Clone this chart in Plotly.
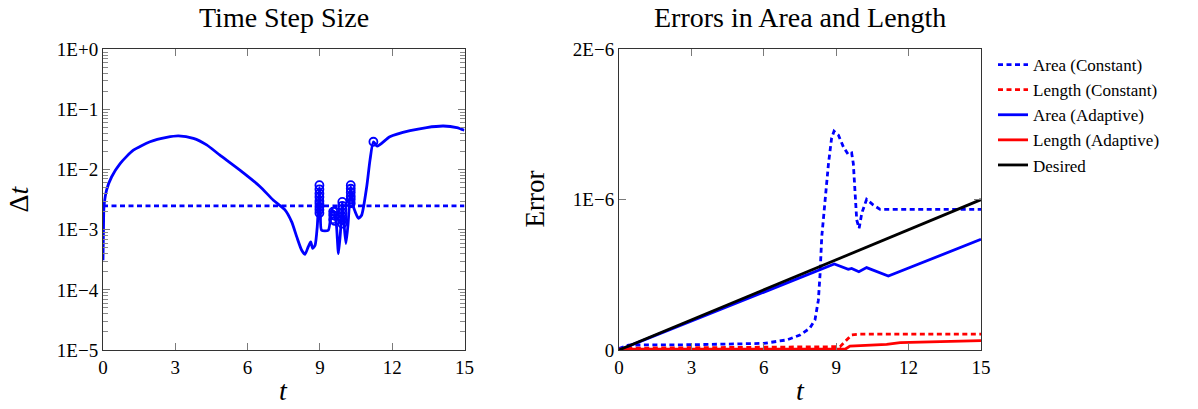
import plotly.graph_objects as go

# ---------------- data: left panel (time step size) ----------------
t_adapt = [0, 0.02, 0.04, 0.15, 0.36, 0.71, 1.26, 1.95, 2.64, 3.13, 3.75, 4.30, 4.85,
           5.68, 6.51, 7.07, 7.55, 7.83, 8.04, 8.24, 8.38, 8.52, 8.62, 8.70, 8.80, 8.89,
           8.98, 9.02, 9.07, 9.35, 9.49, 9.58, 9.68, 9.77, 9.86, 9.93, 10.0, 10.08, 10.17,
           10.28, 10.38, 10.6, 10.73, 10.94, 11.08, 11.22, 11.38, 11.9, 12.74, 13.43,
           14.12, 14.68, 15]
dt_adapt = [3.1e-4, 1.0e-3, 2.4e-3, 4.6e-3, 7.6e-3, 1.26e-2, 2.1e-2, 2.9e-2, 3.43e-2,
            3.63e-2, 3.3e-2, 2.57e-2, 1.74e-2, 9.8e-3, 5.25e-3, 3.1e-3, 2.14e-3, 1.35e-3,
            7.6e-4, 4.6e-4, 3.9e-4, 5.25e-4, 6.3e-4, 4.9e-4, 5.5e-4, 1.12e-3, 5.0e-3,
            2.2e-3, 9.8e-4, 9.8e-4, 2.14e-3, 2.0e-3, 1.26e-3, 4.0e-4, 1.0e-3, 2.8e-3,
            1.26e-3, 5.9e-4, 1.26e-3, 5.2e-3, 2.5e-3, 1.55e-3, 1.74e-3, 5.1e-3, 1.45e-2,
            2.9e-2, 2.45e-2, 3.5e-2, 4.43e-2, 5.0e-2, 5.3e-2, 5.0e-2, 4.5e-2]

t_const = [0, 15]
dt_const = [2.5e-3, 2.5e-3]

t_reject = [8.98, 8.98, 8.98, 8.98, 8.98, 8.98, 8.98, 8.98, 8.98,
            9.55, 9.55, 9.55, 9.62, 9.62, 9.62,
            9.93, 9.93, 9.93, 9.93, 9.93, 9.93, 9.93,
            10.28, 10.28, 10.28, 10.28, 10.28, 10.28,
            11.22]
dt_reject = [5.5e-3, 4.7e-3, 4.0e-3, 3.5e-3, 3.0e-3, 2.7e-3, 2.4e-3, 2.15e-3, 1.9e-3,
             2.0e-3, 1.75e-3, 1.5e-3, 2.0e-3, 1.7e-3, 1.4e-3,
             2.9e-3, 2.5e-3, 2.2e-3, 1.9e-3, 1.65e-3, 1.45e-3, 1.26e-3,
             5.5e-3, 4.8e-3, 4.2e-3, 3.6e-3, 3.2e-3, 2.75e-3,
             2.9e-2]

dt_tickvals = [1e-5, 1e-4, 1e-3, 1e-2, 1e-1, 1]
dt_ticktext = ["1E\u22125", "1E\u22124", "1E\u22123", "1E\u22122", "1E\u22121", "1E+0"]
dt_minor_mult = [2, 3, 4, 5, 6, 7, 8, 9]

# ---------------- data: right panel (errors) ----------------
t_area_c = [0, 0.4, 3, 6, 6.95, 7.5, 7.9, 8.12, 8.26, 8.33, 8.40, 8.54, 8.68, 8.81, 8.91,
            9.09, 9.30, 9.50, 9.64, 9.71, 9.78, 9.85, 9.95, 10.06, 10.26, 10.54, 10.82, 15]
area_c = [0.01e-6, 0.033e-6, 0.035e-6, 0.044e-6, 0.067e-6, 0.10e-6, 0.144e-6, 0.20e-6,
          0.33e-6, 0.50e-6, 0.75e-6, 1.0e-6, 1.24e-6, 1.41e-6, 1.455e-6, 1.43e-6, 1.35e-6,
          1.30e-6, 1.31e-6, 1.24e-6, 1.04e-6, 0.865e-6, 0.81e-6, 0.91e-6, 1.002e-6,
          0.964e-6, 0.935e-6, 0.935e-6]

t_len_c = [0, 0.3, 9.16, 9.37, 9.64, 9.99, 15]
len_c = [0.0, 0.012e-6, 0.022e-6, 0.055e-6, 0.10e-6, 0.106e-6, 0.106e-6]

t_area_a = [0, 4.5, 8.92, 9.5, 9.64, 9.94, 10.26, 11.16, 15]
area_a = [0.0, 0.29e-6, 0.572e-6, 0.537e-6, 0.543e-6, 0.521e-6, 0.548e-6, 0.492e-6, 0.736e-6]

t_len_a = [0, 9.37, 9.57, 11.09, 11.65, 13.17, 15]
len_a = [0.005e-6, 0.005e-6, 0.026e-6, 0.037e-6, 0.049e-6, 0.056e-6, 0.062e-6]

t_desired = [0, 15]
desired = [0.0, 1.0e-6]

err_tickvals = [0, 1e-6, 2e-6]
err_ticktext = ["0", "1E\u22126", "2E\u22126"]

x_ticks = [0, 3, 6, 9, 12, 15]

# ---------------- styling ----------------
BLUE = "#0000FF"
RED = "#FF0000"
FONT = "Liberation Serif"
LW = 2.8
DASH = "5px,3.5px"

fig = go.Figure()

# constant step drawn on the overlay log axis that carries the minor ticks
fig.add_trace(go.Scatter(x=t_const, y=dt_const, mode="lines", xaxis="x", yaxis="y3",
                         line=dict(color=BLUE, width=LW, dash=DASH), showlegend=False))
fig.add_trace(go.Scatter(x=t_adapt, y=dt_adapt, mode="lines", xaxis="x", yaxis="y",
                         line=dict(color=BLUE, width=LW, shape="spline", smoothing=0.6),
                         showlegend=False))
fig.add_trace(go.Scatter(x=t_reject, y=dt_reject, mode="markers", xaxis="x", yaxis="y",
                         marker=dict(symbol="circle-open", size=8, color=BLUE,
                                     line=dict(color=BLUE, width=1.8)),
                         showlegend=False))

fig.add_trace(go.Scatter(x=t_area_c, y=area_c, mode="lines", xaxis="x2", yaxis="y2",
                         name="Area (Constant)", line=dict(color=BLUE, width=LW, dash=DASH)))
fig.add_trace(go.Scatter(x=t_len_c, y=len_c, mode="lines", xaxis="x2", yaxis="y2",
                         name="Length (Constant)", line=dict(color=RED, width=LW, dash=DASH)))
fig.add_trace(go.Scatter(x=t_area_a, y=area_a, mode="lines", xaxis="x2", yaxis="y2",
                         name="Area (Adaptive)", line=dict(color=BLUE, width=LW)))
fig.add_trace(go.Scatter(x=t_len_a, y=len_a, mode="lines", xaxis="x2", yaxis="y2",
                         name="Length (Adaptive)", line=dict(color=RED, width=LW)))
fig.add_trace(go.Scatter(x=t_desired, y=desired, mode="lines", xaxis="x2", yaxis="y2",
                         name="Desired", line=dict(color="black", width=LW)))

W, H = 1198, 409
yd = [(H - 350) / H, (H - 49.3) / H]

common_axis = dict(showline=True, linecolor="#333333", linewidth=1, mirror="ticks",
                   ticks="inside", ticklen=7, tickcolor="#7a7a7a", tickwidth=1,
                   showgrid=False, zeroline=False, automargin=False,
                   tickfont=dict(family=FONT, size=19, color="black"))

minor_vals = [k * v for v in dt_tickvals[:-1] for k in dt_minor_mult]

fig.update_layout(
    width=W, height=H,
    margin=dict(l=0, r=0, t=0, b=0),
    paper_bgcolor="white", plot_bgcolor="white",
    font=dict(family=FONT, color="black"),
    xaxis=dict(domain=[103 / W, 464.5 / W], range=[0, 15], tickmode="array",
               tickvals=x_ticks, anchor="y", **common_axis),
    yaxis=dict(domain=yd, type="log", range=[-5, 0], tickmode="array",
               tickvals=dt_tickvals, ticktext=dt_ticktext, anchor="x",
               **common_axis),
    yaxis3=dict(domain=yd, type="log", range=[-5, 0], overlaying="y", anchor="x",
                side="left", tickmode="array", tickvals=minor_vals,
                showticklabels=False, ticks="inside", ticklen=4.5, tickcolor="#8a8a8a",
                tickwidth=1, showline=True, linecolor="#333333", linewidth=1,
                mirror="ticks", showgrid=False, zeroline=False, automargin=False),
    xaxis2=dict(domain=[619 / W, 981 / W], range=[0, 15], tickmode="array",
                tickvals=x_ticks, anchor="y2", **common_axis),
    yaxis2=dict(domain=yd, range=[0, 2e-6], tickmode="array",
                tickvals=err_tickvals, ticktext=err_ticktext, anchor="x2",
                **common_axis),
    legend=dict(x=993 / W, y=(H - 47) / H, xanchor="left", yanchor="top",
                bgcolor="rgba(0,0,0,0)", borderwidth=0,
                font=dict(family=FONT, size=17, color="black"),
                itemwidth=30, tracegroupgap=0),
    annotations=[
        dict(text="Time Step Size", x=283.75 / W, y=1 - 18 / H, xref="paper", yref="paper",
             showarrow=False, xanchor="center", yanchor="middle",
             font=dict(family=FONT, size=28)),
        dict(text="Errors in Area and Length", x=800 / W, y=1 - 18 / H, xref="paper",
             yref="paper", showarrow=False, xanchor="center", yanchor="middle",
             font=dict(family=FONT, size=28)),
        dict(text="\u0394<i>t</i>", x=19 / W, y=1 - 199.6 / H, xref="paper", yref="paper",
             showarrow=False, xanchor="center", yanchor="middle", textangle=-90,
             font=dict(family=FONT, size=28)),
        dict(text="Error", x=535 / W, y=1 - 199.6 / H, xref="paper", yref="paper",
             showarrow=False, xanchor="center", yanchor="middle", textangle=-90,
             font=dict(family=FONT, size=27)),
        dict(text="<i>t</i>", x=283.75 / W, y=1 - 390 / H, xref="paper", yref="paper",
             showarrow=False, xanchor="center", yanchor="middle",
             font=dict(family=FONT, size=28)),
        dict(text="<i>t</i>", x=800 / W, y=1 - 390 / H, xref="paper", yref="paper",
             showarrow=False, xanchor="center", yanchor="middle",
             font=dict(family=FONT, size=28)),
    ],
)

fig.write_html("out.html")
